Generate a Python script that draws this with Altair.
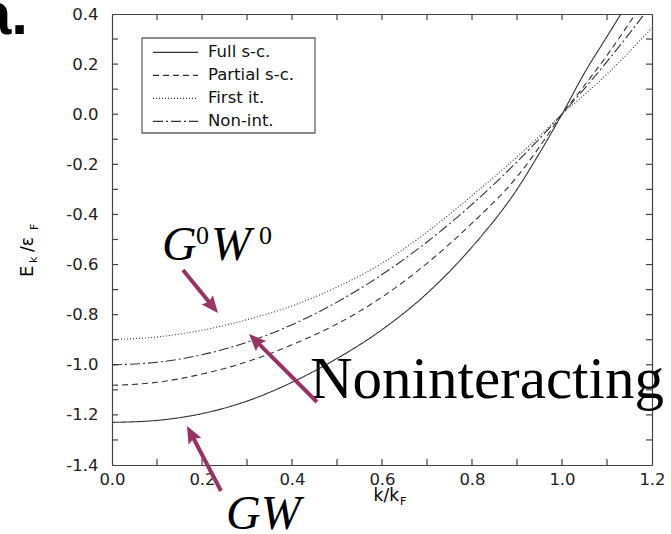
import math
import altair as alt
import pandas as pd

# ---------------- data ----------------
k_vals = [0.0, 0.1, 0.2, 0.3, 0.4, 0.5, 0.6, 0.7, 0.8, 0.9, 0.95, 1.0, 1.05, 1.1, 1.15, 1.2]
full_sc = [-1.23, -1.222, -1.195, -1.145, -1.07, -0.975, -0.86, -0.715, -0.53, -0.30, -0.155,
           0.0, 0.165, 0.31, 0.455, 0.60]
partial_sc = [-1.082, -1.07, -1.037, -0.988, -0.92, -0.837, -0.73, -0.595, -0.435, -0.25, -0.13,
              0.0, 0.115, 0.235, 0.365, 0.50]
first_it = [-0.899, -0.889, -0.862, -0.82, -0.765, -0.69, -0.595, -0.47, -0.325, -0.17, -0.087,
            0.0, 0.078, 0.16, 0.25, 0.345]
non_int = [-1.0, -0.99, -0.96, -0.91, -0.84, -0.75, -0.64, -0.51, -0.36, -0.19, -0.0975,
           0.0, 0.1025, 0.21, 0.3225, 0.44]
series_names = ["Full s-c.", "Partial s-c.", "First it.", "Non-int."]
dash_styles = [[1, 0], [6, 4], [1, 2], [10, 3, 2, 3]]

x_labels = [0.0, 0.2, 0.4, 0.6, 0.8, 1.0, 1.2]
y_labels = [0.4, 0.2, 0.0, -0.2, -0.4, -0.6, -0.8, -1.0, -1.2, -1.4]
x_ticks = [0.1, 0.2, 0.3, 0.4, 0.5, 0.6, 0.7, 0.8, 0.9, 1.0, 1.1]
y_ticks = [0.3, 0.2, 0.1, 0.0, -0.1, -0.2, -0.3, -0.4, -0.5, -0.6, -0.7, -0.8,
           -0.9, -1.0, -1.1, -1.2, -1.3]

rows = []
for name, vals in zip(series_names, [full_sc, partial_sc, first_it, non_int]):
    for k, e in zip(k_vals, vals):
        rows.append({"k": k, "E": e, "series": name})
df = pd.DataFrame(rows)
xt = pd.DataFrame({"v": x_ticks})
yt = pd.DataFrame({"v": y_ticks})

# ---------------- layout ----------------
W, H = 540, 451
PL, PT = 112, 14
TICK = 6
SANS = "DejaVu Sans"
SERIF = "Liberation Serif"
ARROW = "#993366"
INK = "#333333"
FRAME = "#444444"

xscale = alt.Scale(domain=[0, 1.2], nice=False, zero=False)
yscale = alt.Scale(domain=[-1.4, 0.4], nice=False, zero=False)
lbl = "(datum.value < -1e-9 ? '-' : '') + format(abs(datum.value), '.1f')"

ax_style = dict(grid=False, title=None, domainColor=FRAME, domainWidth=1.2, ticks=False,
                labelFont=SANS, labelFontSize=16.5, labelColor="#222", labelFlush=False,
                labelOverlap=False)

one = pd.DataFrame({"a": [0]})

# legend frame
legend_box = alt.Chart(one).mark_rect(fill="white", stroke="#666", strokeWidth=1.3).encode(
    x=alt.value(142 - PL), x2=alt.value(315 - PL), y=alt.value(38 - PT), y2=alt.value(133 - PT))

lines = alt.Chart(df).mark_line(clip=True, color=INK, strokeWidth=1.1, interpolate="monotone").encode(
    x=alt.X("k:Q", scale=xscale,
            axis=alt.Axis(orient="bottom", values=x_labels, labelPadding=6,
                          labelExpr=lbl, **ax_style)),
    y=alt.Y("E:Q", scale=yscale,
            axis=alt.Axis(orient="left", values=y_labels, labelPadding=14,
                          labelExpr=lbl, **ax_style)),
    strokeDash=alt.StrokeDash(
        "series:N",
        scale=alt.Scale(domain=series_names, range=dash_styles),
        legend=alt.Legend(title=None, orient="none", legendX=30, legendY=24,
                          direction="vertical", symbolType="stroke", symbolSize=2025,
                          symbolStrokeColor=INK, symbolStrokeWidth=1.1, symbolOffset=7,
                          labelFont=SANS, labelFontSize=16.5, labelColor="#111",
                          labelOffset=9, padding=3, clipHeight=22.7, rowPadding=0),
    ),
    order=alt.Order("k:Q"),
)

# top / right border lines (axis domains placed on the far sides)
border = alt.Chart(df).mark_point(opacity=0).encode(
    x=alt.X("k:Q", scale=xscale,
            axis=alt.Axis(orient="bottom", offset=-H, values=x_labels, labels=False, **ax_style)),
    y=alt.Y("E:Q", scale=yscale,
            axis=alt.Axis(orient="left", offset=-W, values=y_labels, labels=False, **ax_style)),
)

# inward tick marks on all four sides
tick_kw = dict(color=FRAME, strokeWidth=1.2)
t_bottom = alt.Chart(xt).mark_rule(**tick_kw).encode(
    x=alt.X("v:Q", scale=xscale, axis=None), y=alt.value(H), y2=alt.value(H - TICK))
t_top = alt.Chart(xt).mark_rule(**tick_kw).encode(
    x=alt.X("v:Q", scale=xscale, axis=None), y=alt.value(0), y2=alt.value(TICK))
t_left = alt.Chart(yt).mark_rule(**tick_kw).encode(
    y=alt.Y("v:Q", scale=yscale, axis=None), x=alt.value(0), x2=alt.value(TICK))
t_right = alt.Chart(yt).mark_rule(**tick_kw).encode(
    y=alt.Y("v:Q", scale=yscale, axis=None), x=alt.value(W), x2=alt.value(W - TICK))


def text(s, ax, ay, size, font=SANS, style="normal", weight="normal", align="left", angle=0,
         color="black"):
    return alt.Chart(one).mark_text(
        text=s, font=font, fontSize=size, fontStyle=style, fontWeight=weight, align=align,
        baseline="alphabetic", angle=angle, color=color,
    ).encode(x=alt.value(ax - PL), y=alt.value(ay - PT))


def arrow(tail, tip, width=4, head=17):
    dx, dy = tip[0] - tail[0], tip[1] - tail[1]
    L = math.hypot(dx, dy)
    ux, uy = dx / L, dy / L
    end = (tip[0] - ux * head * 0.7, tip[1] - uy * head * 0.7)
    ctr = (tip[0] - ux * head / 2, tip[1] - uy * head / 2)
    ang = math.degrees(math.atan2(ux, -uy)) % 360
    shaft = alt.Chart(one).mark_rule(color=ARROW, strokeWidth=width, strokeCap="butt").encode(
        x=alt.value(tail[0] - PL), y=alt.value(tail[1] - PT),
        x2=alt.value(end[0] - PL), y2=alt.value(end[1] - PT))
    hd = alt.Chart(one).mark_point(
        shape="M0,-1L0.85,1L0,0.7L-0.85,1Z", filled=True, size=head * head, angle=ang,
        color=ARROW, opacity=1, strokeWidth=0,
    ).encode(x=alt.value(ctr[0] - PL), y=alt.value(ctr[1] - PT))
    return [shaft, hd]


annos = []
# panel letter (cut off at left edge, as in the source)
annos.append(text("a.", 28, 34, 60, font="Liberation Sans", weight="bold", align="right"))
# y-axis title  E_k / eps_F (rotated)
annos.append(text("E", 33, 277, 18, angle=270))
annos.append(text("k", 37, 263, 11, angle=270))
annos.append(text("/ε", 33, 252, 17, angle=270))
annos.append(text("F", 38, 230, 11, angle=270))
# x-axis title k/k_F
annos.append(text("k/k", 399, 501, 17, align="right"))
annos.append(text("F", 400, 505, 11))
# serif annotations
annos.append(text("G", 162, 260, 48, font=SERIF, style="italic"))
annos.append(text("0", 196, 244, 26, font=SERIF))
annos.append(text("W", 211, 260, 48, font=SERIF, style="italic"))
annos.append(text("0", 259, 244, 26, font=SERIF))
annos.append(text("Noninteracting", 310, 398, 59, font=SERIF))
annos.append(text("GW", 226, 529, 48, font=SERIF, style="italic"))
annos += arrow((183, 270), (218, 313))
annos += arrow((317, 402), (249, 334))
annos += arrow((221, 491), (187, 426))

chart = alt.layer(border, t_bottom, t_top, t_left, t_right, legend_box, lines, *annos).resolve_axis(
    x="independent", y="independent"
).properties(
    width=W, height=H,
    padding={"left": PL, "top": PT, "right": 671 - PL - W, "bottom": 534 - PT - H},
    autosize=alt.AutoSizeParams(type="none"),
    background="white",
).configure_view(stroke=None)

chart.save("out.html", embed_options={"renderer": "svg", "actions": False})
